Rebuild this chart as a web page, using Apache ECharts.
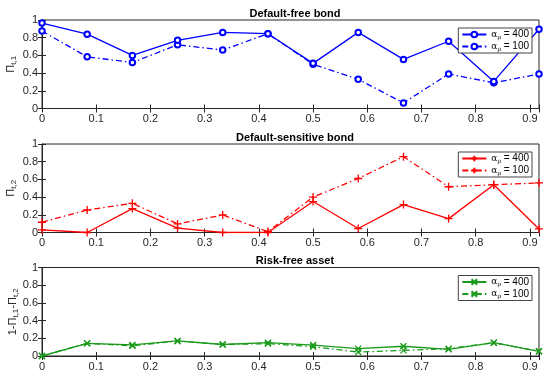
<!DOCTYPE html>
<html><head><meta charset="utf-8">
<script src="https://cdn.jsdelivr.net/npm/echarts@6/dist/echarts.min.js"></script>
<style>html,body{margin:0;padding:0;background:#fff}#c{width:550px;height:377px}</style>
</head><body><div id="c"></div>
<script>
const xs = [0, 0.0833, 0.1667, 0.25, 0.3333, 0.4167, 0.5, 0.5833, 0.6667, 0.75, 0.8333, 0.9167];
const titles = ['Default-free bond', 'Default-sensitive bond', 'Risk-free asset'];
const seriesNames = ['400', '100'];
const yTicks = [0, 0.2, 0.4, 0.6, 0.8, 1];
const bond1_400 = [0.965, 0.84, 0.60, 0.77, 0.86, 0.845, 0.51, 0.86, 0.555, 0.76, 0.306, 0.895];
const bond1_100 = [0.875, 0.584, 0.52, 0.72, 0.66, 0.845, 0.50, 0.33, 0.063, 0.39, 0.29, 0.39];
const bond2_400 = [0.03, 0.0, 0.27, 0.05, 0.0, 0.0, 0.35, 0.045, 0.315, 0.157, 0.54, 0.04];
const bond2_100 = [0.116, 0.254, 0.33, 0.097, 0.198, 0.01, 0.40, 0.61, 0.857, 0.517, 0.54, 0.56];
const rf_400 = [0.0, 0.143, 0.125, 0.17, 0.13, 0.15, 0.124, 0.083, 0.11, 0.075, 0.15, 0.053];
const rf_100 = [0.0, 0.143, 0.115, 0.17, 0.13, 0.14, 0.105, 0.045, 0.064, 0.083, 0.15, 0.053];

const FONT = 'Liberation Sans';
const AX = '#262626';
const colors = ['#0000ff', '#ff0000', '#1a9a1a'];
const symbols = ['emptyCircle', 'path://M0,5L10,5M5,0L5,10', 'path://M0,0L10,10M10,0L0,10'];
const data = [[bond1_400, bond1_100], [bond2_400, bond2_100], [rf_400, rf_100]];
const tops = [20, 144, 267.5];
const H = 88.5;
const yNames = [
  '{p|Π}{s|t,1}',
  '{p|Π}{s|t,2}',
  '{p|1-Π}{s|t,1}{p|-Π}{s|t,2}'
];
const rich = {
  p: {fontFamily: FONT, fontSize: 11, color: AX},
  s: {fontFamily: FONT, fontSize: 8, color: AX, padding: [6, 0, 0, 0]}
};

const grid = [], xAxis = [], yAxis = [], series = [], legend = [], title = [];
for (let i = 0; i < 3; i++) {
  grid.push({left: 42, right: 11, top: tops[i], height: H, show: true, borderColor: AX, borderWidth: 1,
    backgroundColor: '#fff', containLabel: false, outerBoundsMode: 'none'});
  const xlab = {fontFamily: FONT, fontSize: 11, color: AX, margin: 5,
    formatter: v => { const r = Math.round(v * 10) / 10; return Math.abs(v - r) < 1e-6 ? String(r) : ''; }};
  xAxis.push({type: 'value', gridIndex: i, min: 0, max: xs[xs.length - 1], interval: 0.1, position: 'bottom',
    axisLine: {show: true, lineStyle: {color: AX}}, axisTick: {show: true, inside: true, length: 4, lineStyle: {color: AX}},
    axisLabel: xlab, splitLine: {show: false}});
  xAxis.push({type: 'value', gridIndex: i, min: 0, max: xs[xs.length - 1], interval: 0.1, position: 'top',
    axisLine: {show: true, lineStyle: {color: AX}}, axisTick: {show: true, inside: true, length: 4, lineStyle: {color: AX}},
    axisLabel: {show: false}, splitLine: {show: false}});
  yAxis.push({type: 'value', gridIndex: i, min: yTicks[0], max: yTicks[yTicks.length - 1], interval: 0.2, position: 'left',
    axisLine: {show: true, lineStyle: {color: AX}}, axisTick: {show: true, inside: true, length: 4, lineStyle: {color: AX}},
    axisLabel: {fontFamily: FONT, fontSize: 11, color: AX, margin: 4}, splitLine: {show: false},
    name: yNames[i], nameLocation: 'middle', nameRotate: 90, nameGap: i === 2 ? 22 : 24,
    nameMoveOverlap: false,
    nameTextStyle: {rich: rich}});
  yAxis.push({type: 'value', gridIndex: i, min: 0, max: 1, interval: 0.2, position: 'right',
    axisLine: {show: true, lineStyle: {color: AX}}, axisTick: {show: true, inside: true, length: 4, lineStyle: {color: AX}},
    axisLabel: {show: false}, splitLine: {show: false}});
  title.push({text: titles[i], left: 290, textAlign: 'center', top: tops[i] - 17,
    textStyle: {fontFamily: FONT, fontSize: 11, fontWeight: 'bold', color: '#000'}});
  const names = [];
  for (let j = 0; j < 2; j++) {
    const nm = 'g' + i + '_' + seriesNames[j];
    names.push(nm);
    series.push({
      name: nm, type: 'line', xAxisIndex: 2 * i, yAxisIndex: 2 * i,
      data: xs.map((x, k) => [x, data[i][j][k]]),
      symbol: symbols[i], symbolSize: i === 0 ? 5.5 : (i === 1 ? 8 : 6),
      showSymbol: true,
      lineStyle: {color: colors[i], width: 1.3, type: j === 0 ? 'solid' : [6, 3, 1.5, 3]},
      itemStyle: {color: colors[i], borderColor: colors[i], borderWidth: 1.3},
      animation: false, z: j === 0 ? 3 : 2
    });
  }
  legend.push({data: names, right: 18, top: tops[i] + 8, orient: 'vertical',
    backgroundColor: '#fff', borderColor: '#444', borderWidth: 1, padding: [1, 3, 1, 3], itemGap: 1,
    itemWidth: 24, itemHeight: 7,
    formatter: n => '{a|α}{s|ρ}{t| = ' + n.split('_')[1] + '}',
    textStyle: {rich: {
      a: {fontFamily: 'DejaVu Serif', fontSize: 9, color: '#000', lineHeight: 9},
      s: {fontFamily: 'DejaVu Serif', fontSize: 6, color: '#000', padding: [5, 0, 0, 0], lineHeight: 9},
      t: {fontFamily: FONT, fontSize: 10, color: '#000', lineHeight: 9}
    }}
  });
}

const chart = echarts.init(document.getElementById('c'), null, {renderer: 'canvas'});
chart.setOption({animation: false, backgroundColor: '#fff', grid, xAxis, yAxis, series, legend, title});
</script>
</body></html>
